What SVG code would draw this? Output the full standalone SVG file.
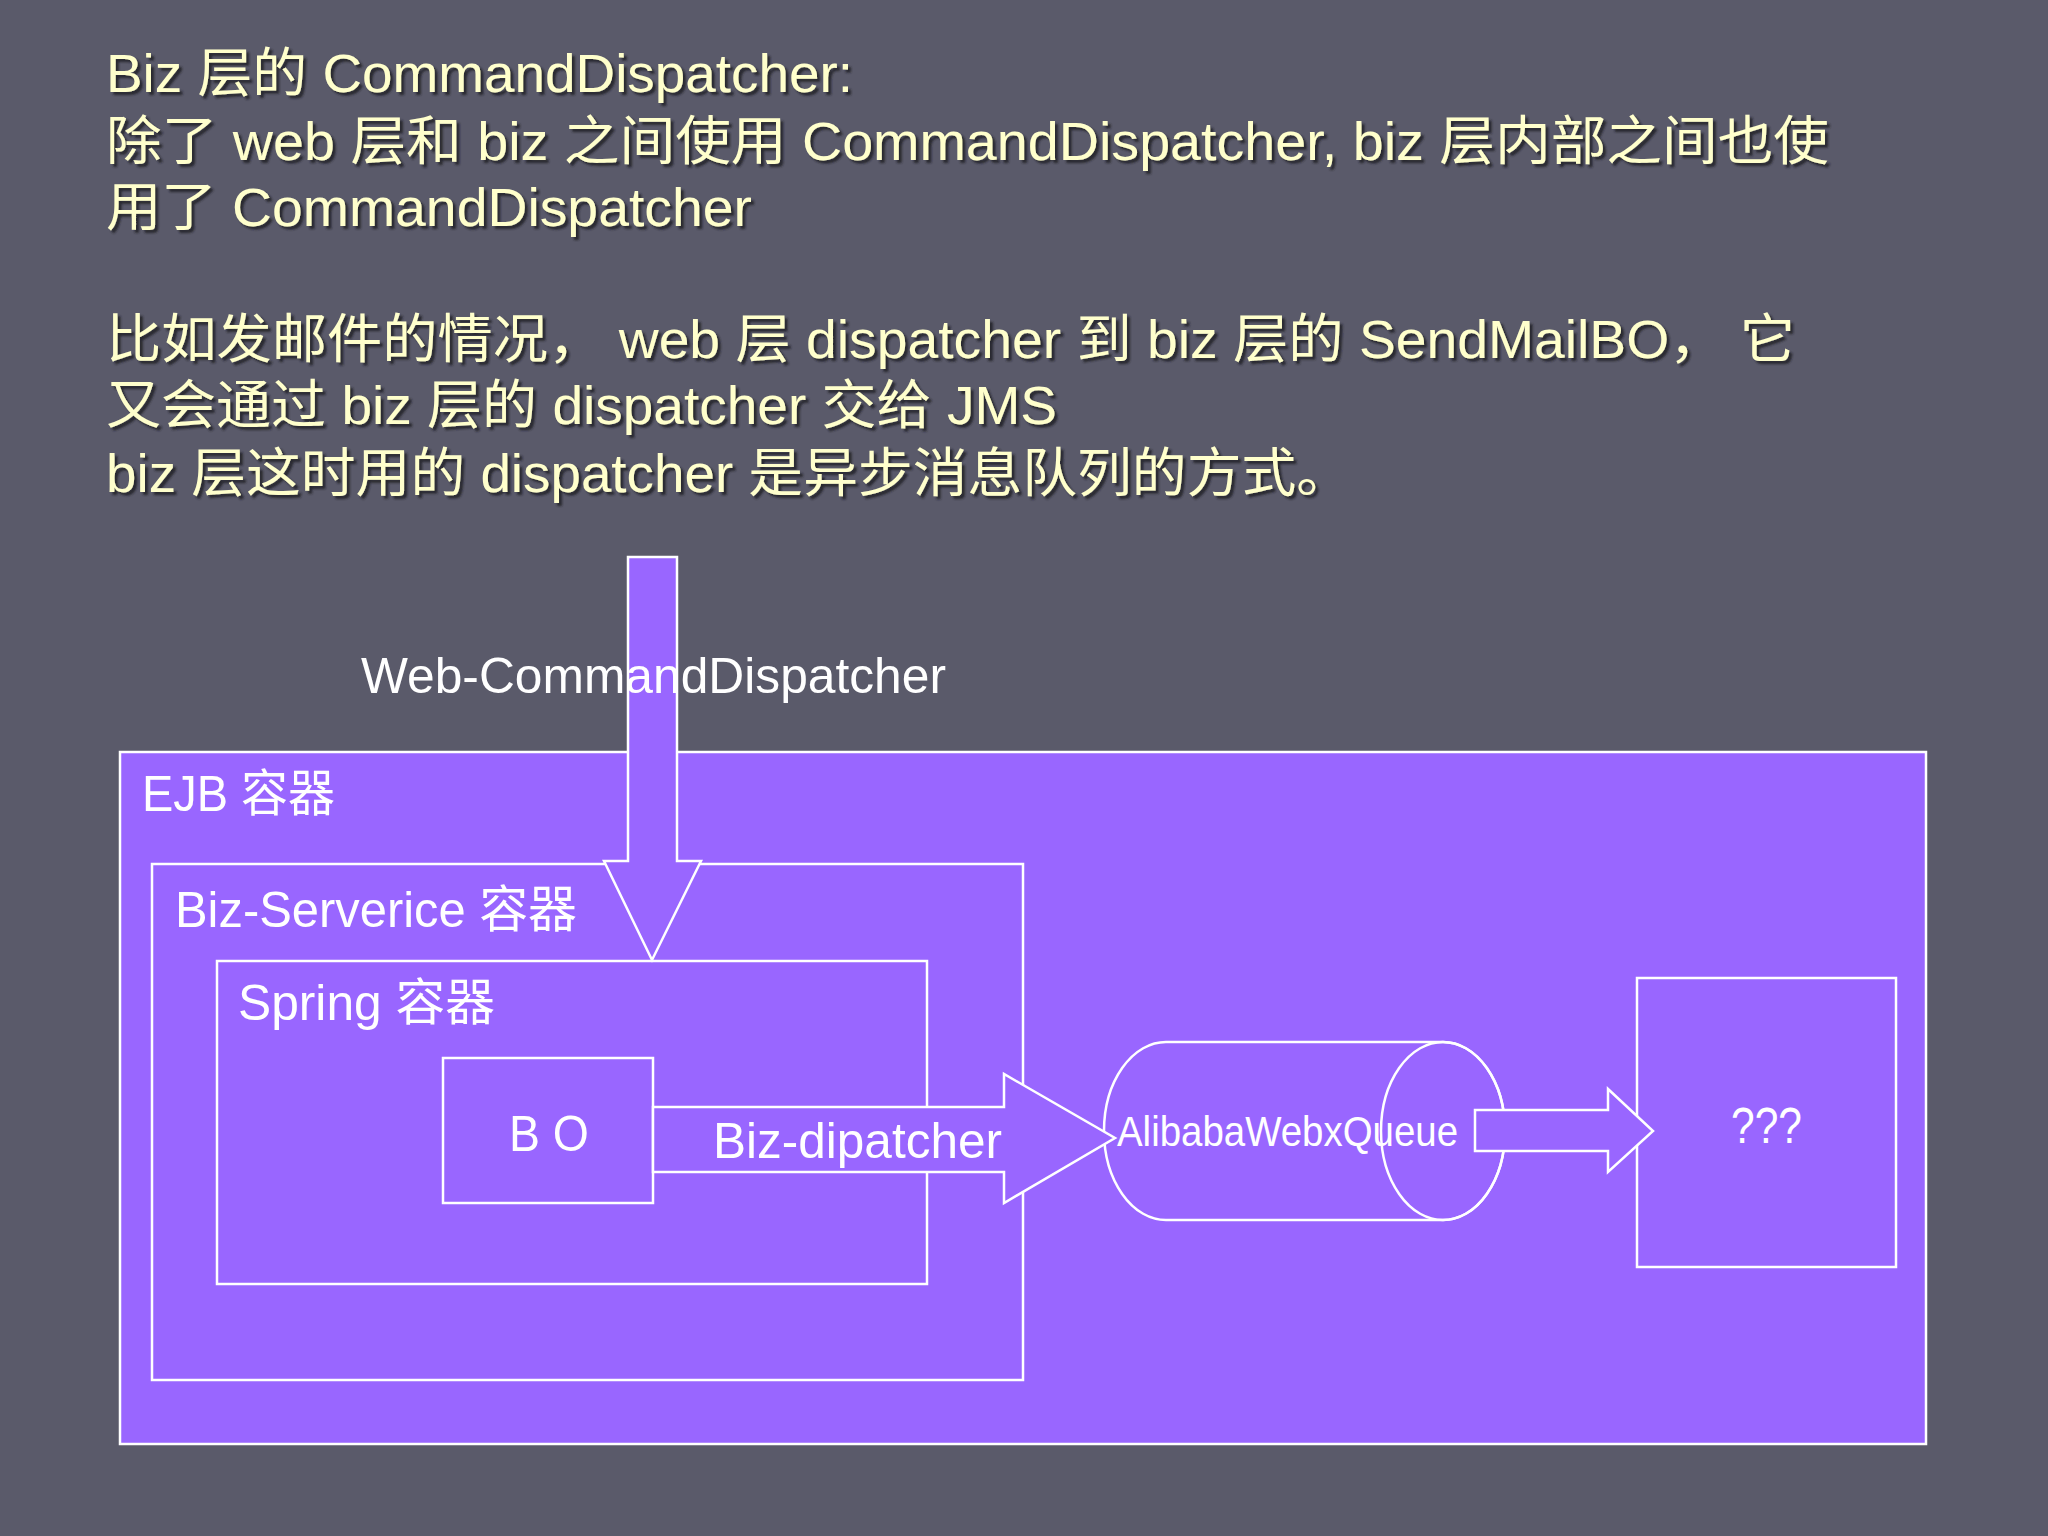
<svg xmlns="http://www.w3.org/2000/svg" width="2048" height="1536" viewBox="0 0 2048 1536">
<defs>
<filter id="shadow" x="-5%" y="-20%" width="110%" height="150%">
<feDropShadow dx="3" dy="3" stdDeviation="0.8" flood-color="#1e1e28" flood-opacity="0.85"/>
</filter>
</defs>
<style>
.title{font-family:"Liberation Sans","Noto Sans CJK SC",sans-serif;font-size:53px;fill:#ffffcc;filter:url(#shadow)}
.box{fill:#9966ff;stroke:#ffffff;stroke-width:2.5}
.arrow{fill:#9966ff;stroke:#ffffff;stroke-width:2.5;stroke-linejoin:miter}
.lbl{font-family:"Liberation Sans","Noto Sans CJK SC",sans-serif;font-size:50px;fill:#ffffff}
</style>
<rect x="0" y="0" width="2048" height="1536" fill="#5a5a6a"/>

<g id="title">
<text class="title" x="106" y="92" textLength="747" lengthAdjust="spacingAndGlyphs">Biz 层的 CommandDispatcher:</text>
<text class="title" x="106" y="160" textLength="1723" lengthAdjust="spacingAndGlyphs">除了 web 层和 biz 之间使用 CommandDispatcher, biz 层内部之间也使</text>
<text class="title" x="106" y="226" textLength="646" lengthAdjust="spacingAndGlyphs">用了 CommandDispatcher</text>
<text class="title" x="106" y="358" textLength="1689" lengthAdjust="spacingAndGlyphs">比如发邮件的情况， web 层 dispatcher 到 biz 层的 SendMailBO， 它</text>
<text class="title" x="106" y="424" textLength="951" lengthAdjust="spacingAndGlyphs">又会通过 biz 层的 dispatcher 交给 JMS</text>
<text class="title" x="106" y="492" textLength="1245" lengthAdjust="spacingAndGlyphs">biz 层这时用的 dispatcher 是异步消息队列的方式。</text>
</g>

<g id="ejb-container">
<rect class="box" x="120" y="752" width="1806" height="692"/>
<text class="lbl" x="142" y="811" textLength="193" lengthAdjust="spacingAndGlyphs">EJB 容器</text>
</g>
<g id="biz-service-container">
<rect class="box" x="152" y="864" width="871" height="516"/>
<text class="lbl" x="175" y="927" textLength="402" lengthAdjust="spacingAndGlyphs">Biz-Serverice 容器</text>
</g>
<g id="spring-container">
<rect class="box" x="217" y="961" width="710" height="323"/>
<text class="lbl" x="238" y="1020" textLength="257" lengthAdjust="spacingAndGlyphs">Spring 容器</text>
</g>
<g id="bo">
<rect class="box" x="443" y="1058" width="210" height="145"/>
<text class="lbl" x="509" y="1151" textLength="80" lengthAdjust="spacingAndGlyphs">B O</text>
</g>
<g id="queue">
<path class="box" d="M1166,1042 L1443,1042 A62,89 0 0 1 1443,1220 L1166,1220 A62,89 0 0 1 1166,1042 Z"/>
<ellipse cx="1443" cy="1131" rx="62" ry="89" fill="none" stroke="#ffffff" stroke-width="2.5"/>
<text class="lbl" x="1117" y="1146" style="font-size:42px" textLength="341" lengthAdjust="spacingAndGlyphs">AlibabaWebxQueue</text>
</g>
<g id="unknown">
<rect class="box" x="1637" y="978" width="259" height="289"/>
<text class="lbl" x="1731" y="1143" textLength="71" lengthAdjust="spacingAndGlyphs">???</text>
</g>

<g id="connectors">
<g id="web-commanddispatcher">
<path class="arrow" d="M628,557 L677,557 L677,861 L701,861 L652,960 L604,861 L628,861 Z"/>
<text class="lbl" x="361" y="693" textLength="585" lengthAdjust="spacingAndGlyphs">Web-CommandDispatcher</text>
</g>
<g id="biz-dipatcher">
<path class="arrow" d="M653,1107 L1004,1107 L1004,1074 L1115,1138 L1004,1203 L1004,1172 L653,1172 Z"/>
<text class="lbl" x="713" y="1158" textLength="289" lengthAdjust="spacingAndGlyphs">Biz-dipatcher</text>
</g>
<g id="queue-to-unknown">
<path class="arrow" d="M1475,1110 L1608,1110 L1608,1089 L1653,1131 L1608,1172 L1608,1151 L1475,1151 Z"/>
</g>
</g>
</svg>
